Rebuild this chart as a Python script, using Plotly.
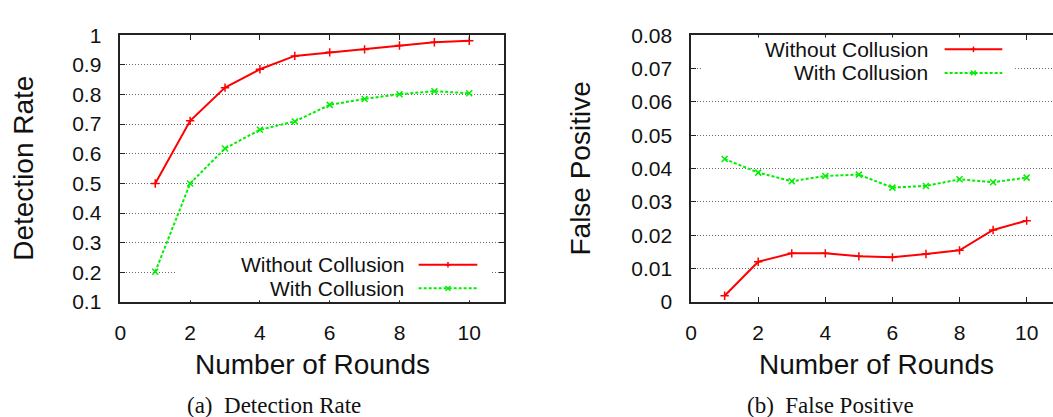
import plotly.graph_objects as go

W, H = 1053, 417

# ---------------- data ----------------
rounds = [1, 2, 3, 4, 5, 6, 7, 8, 9, 10]
det_without = [0.500, 0.711, 0.823, 0.885, 0.930, 0.942, 0.952, 0.965, 0.976, 0.981]
det_with = [0.202, 0.500, 0.618, 0.681, 0.709, 0.765, 0.785, 0.801, 0.811, 0.804]
fp_without = [0.0019, 0.0121, 0.0146, 0.0146, 0.0137, 0.0134, 0.0144, 0.0155, 0.0216, 0.0244]
fp_with = [0.0429, 0.0388, 0.0362, 0.0378, 0.0382, 0.0343, 0.0348, 0.0368, 0.0359, 0.0373]
series_names = ["Without Collusion", "With Collusion"]
x_ticks = [0, 2, 4, 6, 8, 10]
det_ticks = [0.1, 0.2, 0.3, 0.4, 0.5, 0.6, 0.7, 0.8, 0.9, 1]
det_tick_text = ["0.1", "0.2", "0.3", "0.4", "0.5", "0.6", "0.7", "0.8", "0.9", "1"]
fp_ticks = [0, 0.01, 0.02, 0.03, 0.04, 0.05, 0.06, 0.07, 0.08]
fp_tick_text = ["0", "0.01", "0.02", "0.03", "0.04", "0.05", "0.06", "0.07", "0.08"]

RED = "#ff0000"
GREEN = "#00ee00"
FONT = "Liberation Sans"


def px(x):
    return x / W


def py(y):
    return 1 - y / H


red_style = dict(mode="lines+markers", line=dict(color=RED, width=2),
                 marker=dict(symbol="cross-thin", size=6, line=dict(width=1.5, color=RED)))
green_style = dict(mode="lines+markers", line=dict(color=GREEN, width=2, dash="3px,2px"),
                   marker=dict(symbol="x-thin", size=6, line=dict(width=1.5, color=GREEN)))

fig = go.Figure()
fig.add_trace(go.Scatter(x=rounds, y=det_without, name=series_names[0], xaxis="x", yaxis="y", **red_style))
fig.add_trace(go.Scatter(x=rounds, y=det_with, name=series_names[1], xaxis="x", yaxis="y", **green_style))
fig.add_trace(go.Scatter(x=rounds, y=fp_without, name=series_names[0], xaxis="x2", yaxis="y2", **red_style))
fig.add_trace(go.Scatter(x=rounds, y=fp_with, name=series_names[1], xaxis="x2", yaxis="y2", **green_style))

ydom = [py(307), py(24.5)]
common_x = dict(showgrid=False, zeroline=False, showline=True, linecolor="#222", linewidth=1.5,
                ticks="inside", ticklen=5, tickwidth=1, tickcolor="#222",
                tickvals=x_ticks, tickfont=dict(family=FONT, size=21, color="#111"),
                ticklabelstandoff=11, mirror="ticks")
common_y = dict(showgrid=True, gridcolor="#666", griddash="1px,2px", gridwidth=1, zeroline=False,
                showline=True, linecolor="#222", linewidth=1.5,
                ticks="inside", ticklen=5, tickwidth=1, tickcolor="#222",
                tickfont=dict(family=FONT, size=21, color="#111"), ticklabelstandoff=13)

fig.update_layout(
    width=W, height=H, margin=dict(l=0, r=0, t=0, b=0),
    paper_bgcolor="white", plot_bgcolor="white", showlegend=False,
    xaxis=dict(domain=[px(115), px(501)], range=[0, 11], anchor="y", **common_x),
    yaxis=dict(domain=ydom, range=[0.1, 1], anchor="x", tickvals=det_ticks, ticktext=det_tick_text,
               mirror="ticks", **common_y),
    xaxis2=dict(domain=[px(689), 1], range=[0, (1053 - 689) / 33.75], anchor="y2", **common_x),
    yaxis2=dict(domain=ydom, range=[0, 0.08], anchor="x2", tickvals=fp_ticks, ticktext=fp_tick_text,
                mirror=False, **common_y),
)

ann = []
shapes = []

# axis titles
title_font = dict(family=FONT, size=28, color="#111")
ann.append(dict(text="Number of Rounds", x=px(308), y=py(373), xref="paper", yref="paper",
                showarrow=False, xanchor="center", yanchor="middle", font=title_font))
ann.append(dict(text="Number of Rounds", x=px(875), y=py(373), xref="paper", yref="paper",
                showarrow=False, xanchor="center", yanchor="middle", font=title_font))
ann.append(dict(text="Detection Rate", x=px(18), y=py(165), xref="paper", yref="paper",
                showarrow=False, xanchor="center", yanchor="middle", textangle=-90, font=title_font))
ann.append(dict(text="False Positive", x=px(578), y=py(166), xref="paper", yref="paper",
                showarrow=False, xanchor="center", yanchor="middle", textangle=-90, font=title_font))

# captions
cap_font = dict(family="Liberation Serif", size=23, color="#111")
ann.append(dict(text="(a)  Detection Rate", x=px(270), y=py(416), xref="paper", yref="paper",
                showarrow=False, xanchor="center", yanchor="middle", font=cap_font))
ann.append(dict(text="(b)  False Positive", x=px(829), y=py(416), xref="paper", yref="paper",
                showarrow=False, xanchor="center", yanchor="middle", font=cap_font))

# custom gnuplot-style legends (text left, sample right)
leg_font = dict(family=FONT, size=21, color="#111")


def legend(box, text_right, s0, s1, rows):
    x0, x1, y0, y1 = box
    shapes.append(dict(type="rect", xref="paper", yref="paper", x0=px(x0), x1=px(x1), y0=py(y1), y1=py(y0),
                       fillcolor="white", line=dict(width=0), layer="above"))
    for (name, yy, color, dash, mk) in rows:
        ann.append(dict(text=name, x=px(text_right), y=py(yy), xref="paper", yref="paper",
                        showarrow=False, xanchor="right", yanchor="middle", font=leg_font))
        shapes.append(dict(type="line", xref="paper", yref="paper", x0=px(s0), x1=px(s1), y0=py(yy), y1=py(yy),
                           line=dict(color=color, width=2, dash=dash), layer="above"))
        m = (s0 + s1) / 2
        if mk == "+":
            segs = [(m - 3, yy, m + 3, yy), (m, yy - 3, m, yy + 3)]
        else:
            segs = [(m - 2.5, yy - 2.5, m + 2.5, yy + 2.5), (m - 2.5, yy + 2.5, m + 2.5, yy - 2.5)]
        for (a, b, c, d) in segs:
            shapes.append(dict(type="line", xref="paper", yref="paper", x0=px(a), x1=px(c), y0=py(b), y1=py(d),
                               line=dict(color=color, width=1.5), layer="above"))


legend((172, 487, 255, 305), 402, 415, 474,
       [(series_names[0], 267.5, RED, "solid", "+"), (series_names[1], 292.5, GREEN, "3px,2px", "x")])
legend((700, 1015, 27, 77), 929, 944, 1002,
       [(series_names[0], 39.5, RED, "solid", "+"), (series_names[1], 64.5, GREEN, "3px,2px", "x")])

fig.update_layout(annotations=ann, shapes=shapes)
fig.write_html("out.html")
